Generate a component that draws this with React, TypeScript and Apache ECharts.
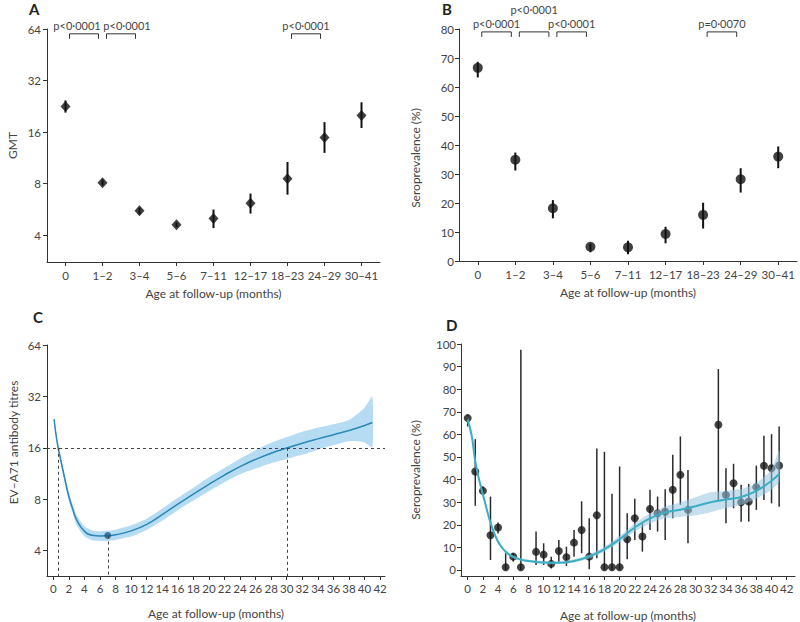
import React, { useEffect, useRef } from "react";
import * as echarts from "echarts";

// ---------------- data ----------------
const ageGroups = ["0", "1–2", "3–4", "5–6", "7–11", "12–17", "18–23", "24–29", "30–41"];

// Panel A: geometric mean titres by age group
const gmtValues = [22.6, 8.1, 5.55, 4.6, 5.0, 6.15, 8.55, 14.9, 20.0];
const gmtLower = [20.8, 7.8, 5.3, 4.45, 4.4, 5.35, 6.9, 12.1, 16.9];
const gmtUpper = [24.5, 8.45, 5.8, 4.75, 5.65, 7.0, 10.7, 18.3, 23.9];
const gmtTestPairs = [[0, 1], [1, 2], [6, 7]];
const gmtTestLabels = ["p<0·0001", "p<0·0001", "p<0·0001"];
const gmtBracketLevel = 60;

// Panel B: seroprevalence by age group
const seroGroupValues = [66.6, 34.9, 18.2, 4.9, 4.7, 9.3, 15.9, 28.2, 36.0];
const seroGroupLower = [63.3, 31.2, 14.7, 3.0, 2.3, 6.1, 11.2, 23.6, 32.0];
const seroGroupUpper = [68.7, 37.4, 21.0, 6.0, 7.0, 11.8, 20.1, 32.0, 39.5];
const seroTestPairs = [[0, 1], [1, 2], [2, 3], [6, 7]];
const seroTestLabels = ["p<0·0001", "p<0·0001", "p<0·0001", "p=0·0070"];
const seroBracketLevel = 79;

// tick labels
const monthTicks = [0, 2, 4, 6, 8, 10, 12, 14, 16, 18, 20, 22, 24, 26, 28, 30, 32, 34, 36, 38, 40, 42];
const percentTicks = [0, 10, 20, 30, 40, 50, 60, 70, 80, 90, 100];

// Panel C: fitted antibody titre curve with 95% band
const titreMonths = [0.1, 0.5, 1, 1.5, 2, 2.5, 3, 4, 5, 6, 7, 8, 10, 12, 14, 16, 18, 20, 22, 24, 26, 28, 30, 32, 34, 36, 38, 40, 41];
const titreFit = [23.5, 17.2, 13.3, 10.4, 8.3, 7.0, 6.05, 5.2, 4.92, 4.87, 4.88, 4.95, 5.22, 5.7, 6.5, 7.49, 8.57, 9.78, 11.08, 12.42, 13.69, 14.88, 15.94, 17.0, 18.05, 19.1, 20.2, 21.6, 22.5];
const titreLower = [22.8, 16.5, 12.7, 9.9, 7.8, 6.6, 5.65, 4.85, 4.6, 4.55, 4.56, 4.62, 4.83, 5.28, 6.0, 6.9, 7.85, 8.9, 10.05, 11.2, 12.1, 13.0, 13.75, 14.6, 15.6, 16.6, 17.5, 17.2, 16.1];
const titreUpper = [24.2, 17.9, 14.0, 10.9, 8.8, 7.4, 6.45, 5.55, 5.25, 5.2, 5.22, 5.3, 5.63, 6.15, 7.05, 8.15, 9.35, 10.75, 12.2, 13.8, 15.5, 17.1, 18.5, 19.9, 21.0, 22.0, 23.3, 27.5, 32.0];
const titreMinimum = [7, 4.9];
const titreThreshold = 16;
const titreCrossMonths = [0.6, 30.1];

// Panel D: monthly seroprevalence with 95% CI
const seroMonths = [0, 1, 2, 3, 4, 5, 6, 7, 9, 10, 11, 12, 13, 14, 15, 16, 17, 18, 19, 20, 21, 22, 23, 24, 25, 26, 27, 28, 29, 33, 34, 35, 36, 37, 38, 39, 40, 41];
const seroMonthly = [67.2, 43.6, 35.0, 15.4, 18.8, 1.2, 5.9, 1.2, 8.0, 6.8, 2.7, 8.4, 5.6, 12.1, 17.7, 5.9, 24.2, 1.2, 1.2, 1.2, 13.6, 22.9, 14.8, 27.0, 25.1, 25.8, 35.5, 42.1, 26.6, 64.3, 33.2, 38.4, 30.0, 30.3, 36.6, 46.1, 45.0, 46.2];
const seroMonthlyLower = [63.5, 28.4, 33.0, 4.4, 16.2, 0, 3.7, 0, 2.2, 2.2, 0.7, 3.7, 1.8, 5.9, 7.4, 0.3, 5.2, 0, 0, 0, 4.7, 13.3, 8.1, 17.7, 17.0, 13.3, 22.9, 28.8, 11.8, 30.3, 20.7, 27.3, 21.4, 21.4, 26.6, 31.0, 29.5, 28.0];
const seroMonthlyUpper = [68.7, 57.9, 37.0, 32.5, 21.0, 7.4, 7.4, 97.5, 17.0, 11.8, 5.9, 13.3, 10.3, 17.7, 30.4, 22.9, 53.8, 52.3, 33.7, 45.8, 25.1, 31.5, 20.7, 35.5, 32.5, 35.7, 51.0, 59.1, 44.3, 88.9, 45.0, 47.0, 37.7, 38.0, 46.2, 59.4, 60.1, 63.5];

const fitMonths = [0, 0.5, 1, 1.5, 2, 2.5, 3, 4, 5, 6, 7, 8, 10, 12, 14, 16, 18, 20, 22, 24, 26, 28, 30, 32, 34, 36, 38, 40, 41];
const seroFit = [66.5, 60.0, 48.0, 40.0, 33.5, 27.0, 21.0, 12.5, 8.1, 5.8, 4.6, 4.0, 3.3, 3.2, 4.0, 6.0, 9.2, 13.6, 18.8, 22.8, 25.5, 26.7, 28.2, 30.0, 31.2, 32.3, 35.0, 39.5, 42.5];
const seroFitLower = [64.5, 58.5, 46.5, 38.8, 32.3, 26.0, 20.0, 11.7, 7.4, 5.2, 4.0, 3.4, 2.7, 2.6, 3.3, 5.1, 8.1, 12.2, 17.0, 20.6, 22.9, 23.5, 24.2, 25.6, 27.4, 28.8, 31.5, 35.5, 39.0];
const seroFitUpper = [68.5, 61.5, 49.5, 41.2, 34.7, 28.0, 22.0, 13.3, 8.8, 6.4, 5.2, 4.6, 3.9, 3.8, 4.7, 6.9, 10.3, 15.0, 20.6, 25.0, 28.1, 29.9, 32.2, 34.4, 35.0, 35.8, 38.5, 44.5, 53.0];

// label shifts for the p-value texts (style only)
const gmtLabelShift = [[-7, 0], [6, 0], [0, 0]];
const seroLabelShift = [[0, 0], [0, -14], [0, 0], [0, 0]];

// ---------------- style helpers ----------------
const FONT = "Lato";
const INK = "#333";
const axisText = { color: "#444", fontFamily: FONT, fontSize: 11.5, fontWeight: "normal" };
const nameText = { color: "#444", fontFamily: FONT, fontSize: 12, fontWeight: "normal" };

const errorBars = (color: string, width: number) => (params: any, api: any) => {
  const x = api.value(0);
  const lo = api.coord([x, api.value(1)]);
  const hi = api.coord([x, api.value(2)]);
  return {
    type: "line",
    shape: { x1: lo[0], y1: lo[1], x2: hi[0], y2: hi[1] },
    style: { stroke: color, lineWidth: width },
  };
};

const bandShape = (fill: string) => (params: any, api: any) => {
  if (params.dataIndexInside !== 0) return null;
  const n = params.dataInsideLength;
  const top: number[][] = [];
  const bottom: number[][] = [];
  for (let i = 0; i < n; i++) {
    const m = api.value(0, i);
    top.push(api.coord([m, api.value(2, i)]));
    bottom.push(api.coord([m, api.value(1, i)]));
  }
  return {
    type: "polygon",
    shape: { points: top.concat(bottom.reverse()), smooth: 0.2 },
    style: { fill, stroke: "none" },
  };
};

const bracketShape = (labels: string[], shifts: number[][]) => (params: any, api: any) => {
  const a = api.coord([api.value(0), api.value(2)]);
  const b = api.coord([api.value(1), api.value(2)]);
  const x1 = a[0] + 4;
  const x2 = b[0] - 4;
  const y = a[1];
  const s = shifts[params.dataIndex];
  return {
    type: "group",
    children: [
      {
        type: "polyline",
        shape: { points: [[x1, y + 5], [x1, y], [x2, y], [x2, y + 5]] },
        style: { stroke: INK, lineWidth: 1, fill: "none" },
      },
      {
        type: "text",
        x: (x1 + x2) / 2 + s[0],
        y: y - 3 + s[1],
        style: {
          text: labels[params.dataIndex],
          align: "center",
          verticalAlign: "bottom",
          fill: "#444",
          fontSize: 11,
          fontFamily: FONT,
          fontWeight: "normal",
        },
      },
    ],
  };
};

const axisLine = { show: true, onZero: false, lineStyle: { color: INK, width: 1 } };

function categoryX(gridIndex: number) {
  return {
    gridIndex,
    type: "category",
    data: ageGroups,
    boundaryGap: true,
    axisLine,
    axisTick: { show: true, alignWithLabel: true, interval: 0, length: 4, lineStyle: { color: INK } },
    axisLabel: { ...axisText, interval: 0, margin: 7 },
    splitLine: { show: false },
    name: "Age at follow-up (months)",
    nameLocation: "middle",
    nameGap: 25,
    nameTextStyle: nameText,
  };
}

function monthX(gridIndex: number, min: number, max: number, gap: number) {
  return {
    gridIndex,
    type: "value",
    min,
    max,
    axisLine,
    axisTick: { show: true, length: 4, customValues: monthTicks, lineStyle: { color: INK } },
    axisLabel: { ...axisText, customValues: monthTicks, margin: 6 },
    splitLine: { show: false },
    name: "Age at follow-up (months)",
    nameLocation: "middle",
    nameGap: gap,
    nameTextStyle: nameText,
  };
}

function logY(gridIndex: number, min: number, name: string, gap: number, padding: number[]) {
  return {
    gridIndex,
    type: "log",
    logBase: 2,
    min,
    max: 64,
    axisLine,
    axisTick: { show: true, length: 4, lineStyle: { color: INK } },
    axisLabel: { ...axisText, showMinLabel: false, margin: 6 },
    splitLine: { show: false },
    name,
    nameLocation: "middle",
    nameGap: gap,
    nameTextStyle: { ...nameText, padding },
  };
}

const letterStyle = { fontSize: 15, fontWeight: "bold", fontFamily: FONT, fill: "#222", verticalAlign: "middle" };

export default function App() {
  const ref = useRef<HTMLDivElement>(null);

  useEffect(() => {
    if (!ref.current) return;
    const chart = echarts.init(ref.current, null, { renderer: "svg" });

    const option: any = {
      animation: false,
      backgroundColor: "#fff",
      textStyle: { fontFamily: FONT },
      grid: [
        { left: 47, top: 29, width: 333, height: 233 },
        { left: 459, top: 29, width: 338, height: 232 },
        { left: 47, top: 345, width: 338, height: 231 },
        { left: 461, top: 344, width: 334, height: 232 },
      ],
      xAxis: [
        categoryX(0),
        categoryX(1),
        monthX(2, -0.81, 42.63, 31),
        monthX(3, -0.88, 43.09, 33),
      ],
      yAxis: [
        logY(0, 2.79, "GMT", 29, [0, 0, 0, 0]),
        {
          gridIndex: 1,
          type: "value",
          min: 0,
          max: 80,
          interval: 10,
          axisLine,
          axisTick: { show: true, length: 4, lineStyle: { color: INK } },
          axisLabel: { ...axisText, margin: 5 },
          splitLine: { show: false },
          name: "Seroprevalence (%)",
          nameLocation: "middle",
          nameGap: 38,
          nameTextStyle: { ...nameText, padding: [0, 26, 0, 0] },
        },
        logY(2, 2.84, "EV–A71 antibody titres", 28, [0, 0, 0, 36]),
        {
          gridIndex: 3,
          type: "value",
          min: -2.66,
          max: 100,
          axisLine,
          axisTick: { show: true, length: 4, customValues: percentTicks, lineStyle: { color: INK } },
          axisLabel: { ...axisText, customValues: percentTicks, margin: 5 },
          splitLine: { show: false },
          name: "Seroprevalence (%)",
          nameLocation: "middle",
          nameGap: 40,
          nameTextStyle: { ...nameText, padding: [0, 20, 0, 0] },
        },
      ],
      graphic: [
        { type: "text", x: 29, y: 9, style: { ...letterStyle, text: "A" } },
        { type: "text", x: 442, y: 9, style: { ...letterStyle, text: "B" } },
        { type: "text", x: 33, y: 317, style: { ...letterStyle, text: "C" } },
        { type: "text", x: 446, y: 325, style: { ...letterStyle, text: "D" } },
      ],
      series: [
        // ---- Panel A ----
        {
          type: "custom",
          xAxisIndex: 0,
          yAxisIndex: 0,
          renderItem: errorBars("#111", 2),
          data: ageGroups.map((_, i) => [i, gmtLower[i], gmtUpper[i]]),
          encode: { x: 0, y: [1, 2] },
          z: 2,
          silent: true,
        },
        {
          type: "scatter",
          xAxisIndex: 0,
          yAxisIndex: 0,
          symbol: "diamond",
          symbolSize: [10, 11],
          itemStyle: { color: "#111" },
          data: gmtValues.map((v, i) => [i, v]),
          z: 3,
          silent: true,
        },
        {
          type: "custom",
          xAxisIndex: 0,
          yAxisIndex: 0,
          renderItem: bracketShape(gmtTestLabels, gmtLabelShift),
          data: gmtTestPairs.map(([a, b]) => [a, b, gmtBracketLevel]),
          encode: { x: [0, 1], y: 2 },
          clip: false,
          silent: true,
        },
        // ---- Panel B ----
        {
          type: "custom",
          xAxisIndex: 1,
          yAxisIndex: 1,
          renderItem: errorBars("#111", 2),
          data: ageGroups.map((_, i) => [i, seroGroupLower[i], seroGroupUpper[i]]),
          encode: { x: 0, y: [1, 2] },
          z: 2,
          silent: true,
        },
        {
          type: "scatter",
          xAxisIndex: 1,
          yAxisIndex: 1,
          symbol: "circle",
          symbolSize: 10,
          itemStyle: { color: "#111" },
          data: seroGroupValues.map((v, i) => [i, v]),
          z: 3,
          silent: true,
        },
        {
          type: "custom",
          xAxisIndex: 1,
          yAxisIndex: 1,
          renderItem: bracketShape(seroTestLabels, seroLabelShift),
          data: seroTestPairs.map(([a, b]) => [a, b, seroBracketLevel]),
          encode: { x: [0, 1], y: 2 },
          clip: false,
          silent: true,
        },
        // ---- Panel C ----
        {
          type: "custom",
          xAxisIndex: 2,
          yAxisIndex: 2,
          renderItem: bandShape("#b6dcf3"),
          data: titreMonths.map((m, i) => [m, titreLower[i], titreUpper[i]]),
          encode: { x: 0, y: [1, 2] },
          z: 1,
          silent: true,
        },
        {
          type: "line",
          xAxisIndex: 2,
          yAxisIndex: 2,
          smooth: true,
          showSymbol: false,
          lineStyle: { color: "#2b88b6", width: 1.5 },
          data: titreMonths.map((m, i) => [m, titreFit[i]]),
          z: 3,
          silent: true,
          markLine: {
            silent: true,
            symbol: ["none", "none"],
            label: { show: false },
            lineStyle: { color: "#444", type: [3, 3], width: 1 },
            data: [
              [{ coord: [-0.81, titreThreshold] }, { coord: [42.63, titreThreshold] }],
              [{ coord: [titreCrossMonths[0], titreThreshold] }, { coord: [titreCrossMonths[0], 2.84] }],
              [{ coord: [titreMinimum[0], titreMinimum[1]] }, { coord: [titreMinimum[0], 2.84] }],
              [{ coord: [titreCrossMonths[1], titreThreshold] }, { coord: [titreCrossMonths[1], 2.84] }],
            ],
          },
        },
        {
          type: "scatter",
          xAxisIndex: 2,
          yAxisIndex: 2,
          symbolSize: 7,
          itemStyle: { color: "#1d5a8a" },
          data: [titreMinimum],
          z: 4,
          silent: true,
        },
        // ---- Panel D ----
        {
          type: "custom",
          xAxisIndex: 3,
          yAxisIndex: 3,
          renderItem: errorBars("#2b2b2b", 1.5),
          data: seroMonths.map((m, i) => [m, seroMonthlyLower[i], seroMonthlyUpper[i]]),
          encode: { x: 0, y: [1, 2] },
          z: 1,
          silent: true,
        },
        {
          type: "scatter",
          xAxisIndex: 3,
          yAxisIndex: 3,
          symbolSize: 8,
          itemStyle: { color: "#151515" },
          data: seroMonths.map((m, i) => [m, seroMonthly[i]]),
          z: 2,
          silent: true,
        },
        {
          type: "custom",
          xAxisIndex: 3,
          yAxisIndex: 3,
          renderItem: bandShape("rgba(150,196,224,0.55)"),
          data: fitMonths.map((m, i) => [m, seroFitLower[i], seroFitUpper[i]]),
          encode: { x: 0, y: [1, 2] },
          z: 3,
          silent: true,
        },
        {
          type: "line",
          xAxisIndex: 3,
          yAxisIndex: 3,
          smooth: true,
          showSymbol: false,
          lineStyle: { color: "#3aafc4", width: 2 },
          data: fitMonths.map((m, i) => [m, seroFit[i]]),
          z: 4,
          silent: true,
        },
      ],
    };

    chart.setOption(option);
    return () => chart.dispose();
  }, []);

  return (
    <div
      ref={ref}
      style={{ position: "absolute", left: 0, top: 0, width: 800, height: 622, background: "#fff" }}
    />
  );
}
